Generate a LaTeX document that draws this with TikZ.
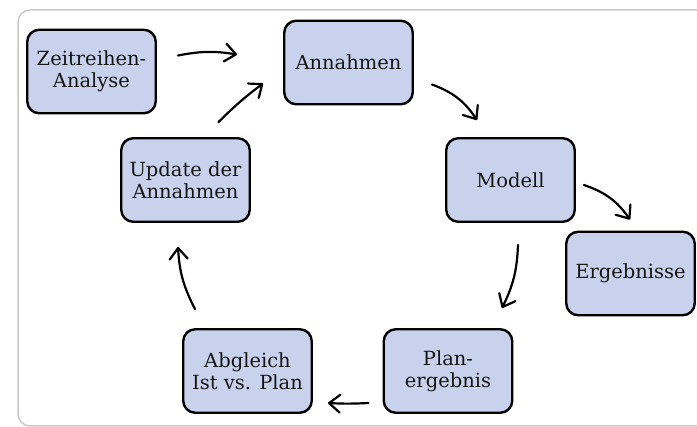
\documentclass[tikz,border=0pt]{standalone}
\usepackage{fontspec}
\setmainfont{DejaVu Serif}
\usetikzlibrary{arrows.meta}
\definecolor{boxblue}{RGB}{200,210,236}
\definecolor{framegray}{RGB}{200,200,200}
\definecolor{txt}{RGB}{20,20,20}
\begin{document}
\begin{tikzpicture}[x=1pt,y=1pt,
  box/.style={draw=black, line width=2.4pt, fill=boxblue, rounded corners=12pt,
    minimum width=128.5pt, minimum height=83.5pt, align=center, inner sep=2pt,
    text=txt, font=\fontsize{19.5}{22}\selectfont},
  arr/.style={line width=2.2pt, line cap=round, black,
    -{Straight Barb[length=11pt,width=18pt,round]}}]
\useasboundingbox (0,0) rectangle (697,427);
\draw[framegray, line width=1.5pt, rounded corners=12pt] (697,1) -- (18,1) -- (18,417) -- (697,417);

\node[box] (z) at (91.5,355.5) {Zeitreihen-\\Analyse};
\node[box] (a) at (348.5,364.5) {Annahmen};
\node[box] (m) at (510.5,247) {Modell};
\node[box] (e) at (630.5,153.5) {Ergebnisse};
\node[box] (p) at (448,56) {Plan-\\ergebnis};
\node[box] (g) at (247.5,56) {Abgleich\\Ist vs. Plan};
\node[box] (u) at (185.5,247) {Update der\\Annahmen};

\draw[arr] ([shift={(21,16)}]z.east) to[bend left=10] ([shift={(-46,8)}]a.west);
\draw[arr] ([shift={(33,15)}]u.north) to[bend left=4] ([shift={(-20,-21)}]a.west);
\draw[arr] ([shift={(18,-22)}]a.east) to[bend left=18] ([shift={(-33.5,17)}]m.north);
\draw[arr] ([shift={(8,-5)}]m.east) to[bend left=18] ([shift={(-0.5,11)}]e.north);
\draw[arr] ([shift={(7.5,-22)}]m.south) to[bend left=12] ([shift={(54,20)}]p.north);
\draw[arr] ([shift={(-14,-32)}]p.west) to[bend left=3] ([shift={(15,-32)}]g.east);
\draw[arr] ([shift={(-52.5,19)}]g.north) to[bend left=12] ([shift={(-7.5,-24)}]u.south);
\end{tikzpicture}
\end{document}
